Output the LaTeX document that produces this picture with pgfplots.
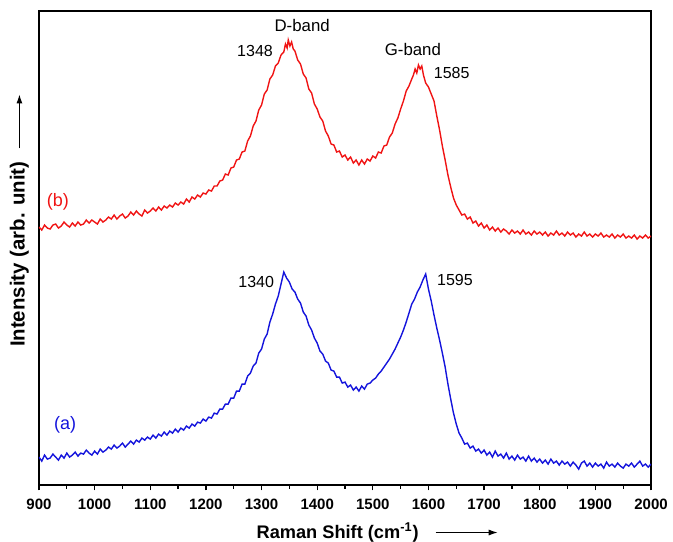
\documentclass[border=0pt]{standalone}
\usepackage{pgfplots}
\pgfplotsset{compat=1.18}
\usepackage{fontspec}
\setmainfont{Liberation Sans}
\usetikzlibrary{arrows.meta}

\definecolor{specred}{RGB}{240,20,20}
\definecolor{specblue}{RGB}{20,20,220}

\begin{document}
\begin{tikzpicture}
\begin{axis}[
  scale only axis,
  width=306pt, height=237pt,
  xmin=900, xmax=2000,
  ymin=56, ymax=530,
  xtick={900,1000,...,2000},
  minor x tick num=1,
  xtick pos=bottom,
  xtick align=outside,
  major tick length=2.6pt,
  minor tick length=1.8pt,
  ytick=\empty,
  axis line style={line width=0.8pt},
  every tick/.style={black, line width=0.6pt},
  /pgf/number format/assume math mode=true,
  /pgf/number format/1000 sep={},
  ticklabel style={font=\fontsize{7.5}{9}\selectfont\bfseries},
  xticklabel style={yshift=-1pt},
  xlabel={Raman Shift (cm\textsuperscript{-1})},
  ylabel={Intensity (arb. unit)},
  xlabel style={name=xl, font=\fontsize{9.1}{11}\selectfont\bfseries,
    at={(axis description cs:0.488,-0.1)}, anchor=center},
  ylabel style={name=yl, font=\fontsize{10.2}{12}\selectfont\bfseries,
    at={(axis description cs:-0.032,0.487)}, anchor=center},
]
% (b) red spectrum
\addplot[specred, line width=0.7pt] coordinates {
(900,314) (905,311) (910,316) (915,313) (920,312) (925,316) (930,317) (935,313) (940,315) (945,319)
(950,316) (955,314) (960,318) (965,315) (970,319) (975,316) (980,317) (985,321) (990,318) (995,321)
(1000,319) (1005,317) (1010,322) (1015,319) (1020,321) (1025,324) (1030,322) (1035,326) (1040,322) (1045,325)
(1050,327) (1055,323) (1060,325) (1065,329) (1070,326) (1075,330) (1080,327) (1085,325) (1090,331) (1095,328)
(1100,330) (1105,333) (1110,330) (1115,334) (1120,331) (1125,335) (1130,333) (1135,336) (1140,334) (1145,338)
(1150,336) (1155,339) (1160,337) (1165,342) (1170,339) (1175,344) (1180,342) (1185,346) (1190,344) (1195,348)
(1200,347) (1205,351) (1210,350) (1215,355) (1220,355) (1225,360) (1230,361) (1235,367) (1240,366) (1245,373)
(1250,374) (1255,381) (1260,382) (1265,389) (1270,390) (1275,400) (1280,405) (1285,415) (1290,420) (1295,431)
(1300,436) (1305,447) (1310,451) (1315,462) (1320,466) (1325,475) (1330,478) (1335,486) (1340,489) (1343,497)
(1346,493) (1348,501) (1351,495) (1354,499) (1357,492) (1360,490) (1365,481) (1370,477) (1375,467) (1380,463)
(1385,452) (1390,448) (1395,437) (1400,432) (1405,424) (1410,420) (1415,410) (1420,405) (1425,397) (1430,396)
(1435,389) (1440,390) (1445,384) (1450,386) (1455,381) (1460,384) (1465,378) (1470,381) (1475,376) (1480,381)
(1485,377) (1490,382) (1495,380) (1500,385) (1505,383) (1510,389) (1515,388) (1520,395) (1525,396) (1530,404)
(1535,408) (1540,417) (1545,423) (1550,432) (1555,440) (1560,450) (1565,455) (1570,462) (1573,466) (1576,472)
(1579,468) (1582,476) (1585,472) (1588,475) (1591,466) (1595,458) (1600,454) (1605,447) (1610,440) (1615,425)
(1620,411) (1625,395) (1630,381) (1635,366) (1640,354) (1645,343) (1650,336) (1655,331) (1660,326) (1665,327)
(1670,322) (1675,324) (1680,318) (1685,320) (1690,315) (1695,318) (1700,313) (1705,316) (1710,311) (1715,314)
(1720,310) (1725,313) (1730,309) (1735,312) (1740,310) (1745,307) (1750,311) (1755,308) (1760,310) (1765,307)
(1770,311) (1775,307) (1780,309) (1785,306) (1790,310) (1795,307) (1800,309) (1805,306) (1810,309) (1815,305)
(1820,308) (1825,306) (1830,310) (1835,306) (1840,308) (1845,305) (1850,309) (1855,306) (1860,308) (1865,304)
(1870,307) (1875,305) (1880,309) (1885,305) (1890,307) (1895,304) (1900,307) (1905,305) (1910,308) (1915,304)
(1920,306) (1925,304) (1930,307) (1935,303) (1940,306) (1945,304) (1950,307) (1955,303) (1960,305) (1965,303)
(1970,306) (1975,302) (1980,305) (1985,303) (1990,306) (1995,303) (2000,305)
};
% (a) blue spectrum
\addplot[specblue, line width=0.7pt] coordinates {
(900,84) (905,80) (910,86) (915,82) (920,83) (925,87) (930,84) (935,81) (940,86) (945,83)
(950,88) (955,84) (960,86) (965,89) (970,85) (975,88) (980,87) (985,91) (990,88) (995,86)
(1000,90) (1005,87) (1010,92) (1015,89) (1020,91) (1025,94) (1030,92) (1035,96) (1040,93) (1045,95)
(1050,98) (1055,94) (1060,97) (1065,100) (1070,97) (1075,101) (1080,99) (1085,103) (1090,101) (1095,104)
(1100,102) (1105,106) (1110,103) (1115,107) (1120,105) (1125,109) (1130,106) (1135,110) (1140,108) (1145,112)
(1150,109) (1155,113) (1160,111) (1165,115) (1170,113) (1175,117) (1180,115) (1185,119) (1190,118) (1195,122)
(1200,120) (1205,124) (1210,123) (1215,128) (1220,127) (1225,132) (1230,132) (1235,137) (1240,137) (1245,143)
(1250,143) (1255,150) (1260,150) (1265,157) (1270,157) (1275,165) (1280,168) (1285,175) (1290,178) (1295,188)
(1300,192) (1305,202) (1310,207) (1315,219) (1320,227) (1325,237) (1330,245) (1335,257) (1340,269) (1345,263)
(1350,259) (1355,252) (1360,249) (1365,242) (1370,238) (1375,229) (1380,225) (1385,216) (1390,211) (1395,203)
(1400,198) (1405,190) (1410,187) (1415,180) (1420,178) (1425,171) (1430,170) (1435,164) (1440,164) (1445,158)
(1450,159) (1455,154) (1460,156) (1465,151) (1470,154) (1475,150) (1480,155) (1485,152) (1490,157) (1495,158)
(1500,161) (1505,163) (1510,167) (1515,170) (1520,174) (1525,178) (1530,182) (1535,187) (1540,192) (1545,198)
(1550,204) (1555,211) (1560,219) (1565,228) (1570,237) (1575,242) (1580,249) (1585,254) (1590,261) (1595,267)
(1600,252) (1605,240) (1610,226) (1615,213) (1620,201) (1625,188) (1630,174) (1635,157) (1640,142) (1645,128)
(1650,117) (1655,108) (1660,103) (1665,97) (1670,98) (1675,93) (1680,95) (1685,90) (1690,92) (1695,88)
(1700,91) (1705,86) (1710,89) (1715,84) (1720,90) (1725,85) (1730,87) (1735,83) (1740,88) (1745,82)
(1750,85) (1755,81) (1760,86) (1765,82) (1770,84) (1775,80) (1780,85) (1785,80) (1790,83) (1795,79)
(1800,82) (1805,78) (1810,81) (1815,77) (1820,82) (1825,78) (1830,80) (1835,76) (1840,80) (1845,77)
(1850,79) (1855,75) (1860,79) (1865,76) (1870,72) (1875,78) (1880,80) (1885,75) (1890,78) (1895,74)
(1900,78) (1905,75) (1910,77) (1915,73) (1920,79) (1925,75) (1930,77) (1935,74) (1940,78) (1945,75)
(1950,73) (1955,77) (1960,75) (1965,78) (1970,74) (1975,77) (1980,80) (1985,75) (1990,77) (1995,74)
(2000,77)
};

\node[font=\fontsize{8.4}{10}\selectfont] at (axis cs:1373,516) {D-band};
\node[font=\fontsize{8.4}{10}\selectfont] at (axis cs:1572,492) {G-band};
\node[font=\fontsize{8}{10}\selectfont, anchor=east] at (axis cs:1333,490) {1348};
\node[font=\fontsize{8}{10}\selectfont, anchor=west] at (axis cs:1597,468) {1585};
\node[font=\fontsize{8}{10}\selectfont, anchor=east] at (axis cs:1335,259) {1340};
\node[font=\fontsize{8}{10}\selectfont, anchor=west] at (axis cs:1603,261) {1595};
\node[font=\fontsize{9}{11}\selectfont, text=specred] at (axis cs:934,339) {(b)};
\node[font=\fontsize{9}{11}\selectfont, text=specblue] at (axis cs:947,116) {(a)};
\end{axis}
\draw[-{Latex[length=4.5pt,width=3pt]}, line width=0.55pt] ([xshift=5pt]xl.east) -- ++(31pt,0);
\draw[-{Latex[length=4.5pt,width=3pt]}, line width=0.55pt] (yl.east) ++(0,3pt) -- ++(0,27pt);
\pgfresetboundingbox
\path ([shift={(-19.5pt,-28pt)}]current axis.south west) rectangle ([shift={(11pt,5.5pt)}]current axis.north east);
\end{tikzpicture}
\end{document}
